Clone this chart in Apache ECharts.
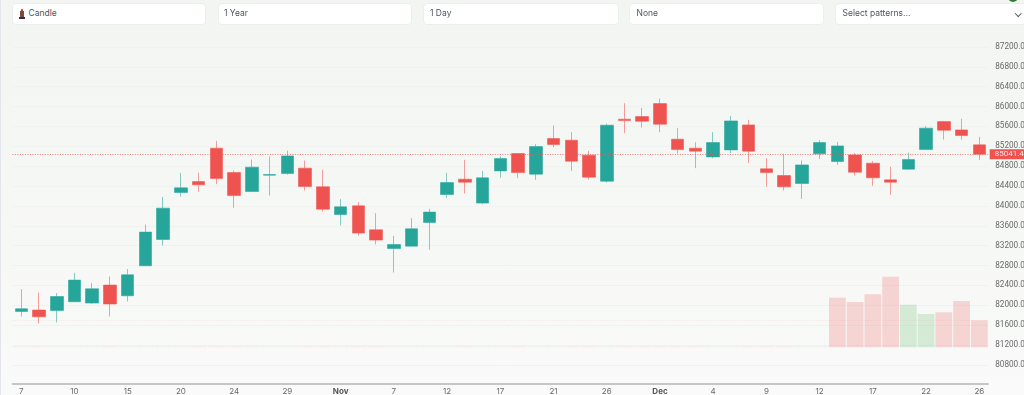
<!DOCTYPE html>
<html>
<head>
<meta charset="utf-8">
<script src="https://cdn.jsdelivr.net/npm/echarts@6/dist/echarts.min.js"></script>
<style>
html,body{margin:0;padding:0;width:1024px;height:395px;overflow:hidden;background:linear-gradient(#f3f5f2,#f5f7f4 40%,#f9faf9);font-family:Inter,"Noto Sans",sans-serif}
#strip{position:absolute;left:0;top:0;width:1px;height:395px;background:#e3e5ec}
#chart{position:absolute;left:0;top:0;width:1024px;height:395px}
.sel{position:absolute;top:3px;height:21.5px;box-sizing:border-box;background:#fff;border:1px solid #ebeeec;border-radius:4px;font-size:8.5px;line-height:19.5px;color:#50555e;white-space:nowrap;z-index:2}
#dot{position:absolute;left:1008px;top:-8px;width:10px;height:10px;border-radius:50%;background:#2e7d32;z-index:3}
#flame{position:absolute;left:21px;top:8.5px;width:2px;height:3px;background:#c0392b;border-radius:1px;z-index:3}
#wax{position:absolute;left:20px;top:11px;width:4px;height:6px;background:#7a4a45;z-index:3}
#base{position:absolute;left:19px;top:17px;width:6px;height:2px;background:#333;z-index:3}
#chev{position:absolute;left:1016px;top:11px;width:3.5px;height:3.5px;border-right:1px solid #555;border-bottom:1px solid #555;transform:rotate(45deg);z-index:3}
</style>
</head>
<body>
<div id="strip"></div>
<div id="chart"></div>
<div class="sel" style="left:12px;width:194px;padding-left:15.5px">Candle</div>
<div class="sel" style="left:218px;width:194px;padding-left:5px">1 Year</div>
<div class="sel" style="left:423px;width:196px;padding-left:6px">1 Day</div>
<div class="sel" style="left:629px;width:195px;padding-left:6.5px">None</div>
<div class="sel" style="left:835px;width:195px;padding-left:6.5px">Select patterns...</div>
<div id="flame"></div><div id="wax"></div><div id="base"></div><div id="chev"></div><div id="dot"></div>
<script>
var tickLabels = ['7','','','10','','','15','','','20','','','24','','','29','','','Nov','','','7','','','12','','','17','','','21','','','26','','','Dec','','','4','','','9','','','12','','','17','','','22','','','26'];
var opens  = [81875,81903,81895,82070,82044,82406,82190,82794,83323,84269,84490,85162,84671,84289,84619,84651,84760,84384,83826,84001,83518,83142,83190,83665,84229,84538,84056,84705,85054,84639,85355,85323,85021,84498,85746,85798,86060,85343,85162,84987,85128,85631,84746,84611,84450,85048,84893,85027,84860,84524,84740,85134,85697,85530,85229];
var closes = [81929,81768,82176,82506,82331,82024,82613,83472,83955,84363,84424,84551,84208,84780,84631,85007,84390,83935,83981,83452,83311,83223,83539,83875,84470,84478,84565,84953,84671,85194,85235,84901,84579,85625,85718,85705,85645,85134,85102,85275,85711,85102,84671,84384,84826,85275,85208,84679,84565,84478,84933,85565,85524,85416,85041.45];
var lows   = [81774,81633,81653,82070,82030,81774,82076,82794,83202,84188,84283,84438,83961,84283,84208,84631,84309,83887,83605,83398,83223,82659,83190,83116,84156,84249,84035,84565,84559,84524,85182,84705,84530,84470,85464,85577,85484,85054,84760,84961,85062,84866,84384,84309,84142,84947,84826,84611,84404,84223,84726,85128,85335,85335,84927];
var highs  = [82325,82257,82245,82653,82446,82579,82728,83625,84182,84665,84671,85309,84712,84933,84993,85114,84913,84726,84136,84076,83854,83398,83754,83941,84665,84927,84705,85001,85054,85243,85617,85484,85108,85657,86068,85973,86160,85565,85283,85484,85812,85732,84961,85048,84913,85323,85289,85062,84901,84786,85074,85611,85711,85752,85390];
var volumes = [1,1,1,1,1,1,1,1,1,1,1,1,1,1,1,1,1,1,1,1,1,1,1,1,1,1,1,1,1,1,1,1,1,1,1,1,1,1,1,1,1,1,1,1,1,1,49.6,45.3,53,70.6,42.6,33.3,35,46.3,27];
var volumeUp = [1,0,1,1,1,0,1,1,1,1,0,0,0,1,1,1,0,0,1,0,0,1,1,1,1,0,1,1,0,1,1,0,0,1,0,0,0,0,0,1,1,0,0,0,1,1,0,0,0,0,1,1,0,0,0];
var lastPrice = 85041.45;
var lastVolume = 27;

var UP='#26a69a', DOWN='#ef5350';
var candleData = opens.map(function(o,i){return [o,closes[i],lows[i],highs[i]];});
var volData = volumes.map(function(v,i){
  var tiny = v<=1;
  return {value:v,itemStyle:{color:volumeUp[i]?(tiny?'rgba(76,175,80,0.1)':'rgba(76,175,80,0.2)'):(tiny?'rgba(239,83,80,0.1)':'rgba(239,83,80,0.22)')}};
});
var chart = echarts.init(document.getElementById('chart'),null,{renderer:'canvas'});
chart.setOption({
  animation:false,
  backgroundColor:'transparent',
  grid:[
    {left:12.4,width:975.8,top:27.1,height:357.6,outerBoundsMode:'none'},
    {left:12.4,width:975.8,top:27.1,height:320.2,outerBoundsMode:'none'}
  ],
  xAxis:[
    {type:'category',gridIndex:0,data:tickLabels,boundaryGap:true,offset:-1,
     axisLine:{lineStyle:{color:'#b2b5ba',width:1.5}},axisTick:{show:false},splitLine:{show:false},
     axisLabel:{interval:0,margin:4,fontSize:8,color:'#6a6a6a',fontFamily:'Inter,Roboto,sans-serif',hideOverlap:false,
       formatter:function(v){return /[A-Za-z]/.test(v)?'{b|'+v+'}':v;},
       rich:{b:{fontSize:8,fontWeight:'bold',color:'#555',fontFamily:'Inter,Roboto,sans-serif'}}}},
    {type:'category',gridIndex:1,data:tickLabels,boundaryGap:true,show:false}
  ],
  yAxis:[
    {type:'value',gridIndex:0,position:'right',min:80400,max:87600,interval:400,scale:true,
     axisLine:{show:false},axisTick:{show:false},
     splitLine:{show:true,showMinLine:false,showMaxLine:false,lineStyle:{color:'#f0f2f0',width:1}},
     axisLabel:{showMinLabel:false,showMaxLabel:false,inside:false,margin:7,fontSize:8.2,color:'#6a6a6a',fontFamily:'Roboto,sans-serif',
       formatter:function(v){return v.toFixed(2);}}},
    {type:'value',gridIndex:1,min:0,max:320,show:false,splitLine:{show:false}}
  ],
  series:[
    {type:'bar',xAxisIndex:1,yAxisIndex:1,data:volData,barWidth:16.8,z:1,
     markLine:{silent:true,symbol:'none',animation:false,label:{show:false},
       lineStyle:{color:'rgba(239,83,80,0.14)',type:[1,2],width:1},data:[{yAxis:lastVolume}]}},
    {type:'candlestick',xAxisIndex:0,yAxisIndex:0,data:candleData,barWidth:13,z:3,
     itemStyle:{color:UP,color0:DOWN,borderColor:'rgba(38,166,154,0.55)',borderColor0:'rgba(239,83,80,0.55)',borderWidth:1},
     markLine:{silent:true,symbol:'none',animation:false,z:4,
       lineStyle:{color:'rgba(239,83,80,0.75)',type:[1,1.5],width:1},
       label:{show:true,position:'end',distance:1.5,formatter:function(){return lastPrice.toFixed(2);},
         backgroundColor:DOWN,color:'#ffe5e5',fontSize:8,fontFamily:'Roboto,sans-serif',padding:[1,6,1,5],lineHeight:8},
       data:[{yAxis:lastPrice}]}}
  ]
});
</script>
</body>
</html>
